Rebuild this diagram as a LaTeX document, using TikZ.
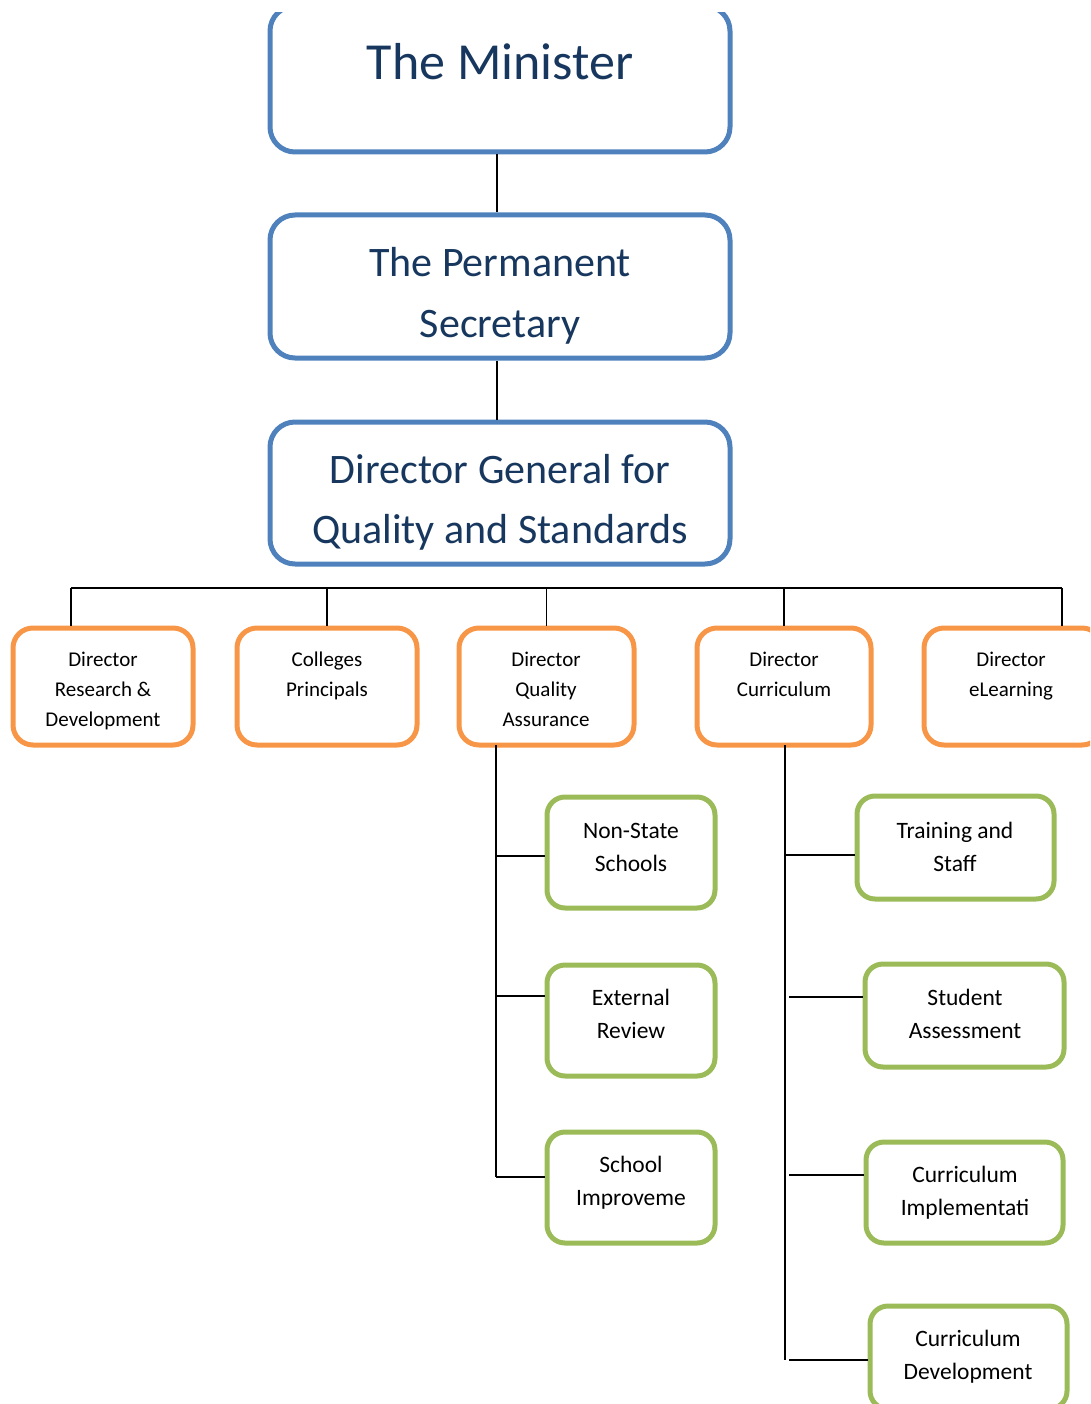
\documentclass[tikz,border=0pt]{standalone}
\usepackage{fontspec}
\setmainfont{Carlito}
\usepackage{tikz}

\definecolor{boxblue}{HTML}{4F81BD}
\definecolor{boxorange}{HTML}{F79646}
\definecolor{boxgreen}{HTML}{9BBB59}
\definecolor{titleblue}{HTML}{17375E}

\begin{document}
\begin{tikzpicture}[x=1pt, y=-1pt,
  bluebox/.style={draw=boxblue, line width=5pt, rounded corners=25pt, minimum width=460pt, inner sep=0pt},
  orangebox/.style={draw=boxorange, line width=5pt, rounded corners=20pt, minimum height=117pt, inner sep=0pt},
  greenbox/.style={draw=boxgreen, line width=5pt, rounded corners=18pt, inner sep=0pt},
  bigtext/.style={align=center, anchor=base, text=titleblue, inner sep=0pt, font=\fontsize{42}{60}\selectfont},
  midtext/.style={align=center, anchor=base, inner sep=0pt, font=\fontsize{21}{30}\selectfont},
  smalltext/.style={align=center, anchor=base, inner sep=0pt, font=\fontsize{23.5}{33}\selectfont},
  link/.style={draw=black, line width=1.6pt}]

\useasboundingbox (0,0) rectangle (1090,1404);
\clip (0,13) rectangle (1090,1404);

% top of the chart (text nodes sit on the baseline of their last line)
\node[bluebox, minimum height=146pt] (mini) at (500,79) {};
\node[bigtext, font=\fontsize{52}{60}\selectfont] (miniT) at (500,80) {The Minister};

\node[bluebox, minimum height=143pt] (perm) at (500,286.5) {};
\node[bigtext] (permT) at (500,337) {The Permanent\\Secretary};

\node[bluebox, minimum height=142pt] (dg) at (500,493) {};
\node[bigtext] (dgT) at (500,543) {Director General for\\Quality and Standards};

\draw[link] ([xshift=-3pt]mini.south) -- ([xshift=-3pt]perm.north);
\draw[link] ([xshift=-3pt]perm.south) -- ([xshift=-3pt]dg.north);

% directors
\node[orangebox, minimum width=180pt] (rd) at (103,686.5) {};
\node[midtext] (rdT) at (103,726) {Director\\Research \&\\Development};

\node[orangebox, minimum width=180pt] (col) at (327,686.5) {};
\node[midtext] (colT) at (327,696) {Colleges\\Principals};

\node[orangebox, minimum width=175pt] (qa) at (546.5,686.5) {};
\node[midtext] (qaT) at (546,726) {Director\\Quality\\Assurance};

\node[orangebox, minimum width=174pt] (cur) at (784,686.5) {};
\node[midtext] (curT) at (784,696) {Director\\Curriculum};

\node[orangebox, minimum width=178pt] (el) at (1013,686.5) {};
\node[midtext] (elT) at (1011,696) {Director\\eLearning};

\coordinate (barL) at (71,588);
\coordinate (barR) at (1062,588);
\draw[link] (barL) -- (barR);
\draw[link] (barL) -- (barL |- rd.north);
\draw[link] (col.north |- barL) -- (col.north);
\draw[link] (qa.north |- barL) -- (qa.north);
\draw[link] (cur.north |- barL) -- (cur.north);
\draw[link] (barR) -- (barR |- el.north);

% quality assurance units
\node[greenbox, minimum width=168pt, minimum height=111pt] (nss) at (631,852.5) {};
\node[smalltext] (nssT) at (631,871) {Non-State\\Schools};

\node[greenbox, minimum width=168pt, minimum height=111pt] (ext) at (631,1020.5) {};
\node[smalltext] (extT) at (631,1038) {External\\Review};

\node[greenbox, minimum width=168pt, minimum height=111pt] (sim) at (631,1187.5) {};
\node[smalltext] (simT) at (631,1205) {School\\Improveme};

\coordinate (qaTop) at (496,745);
\coordinate (qaEnd) at (496,1177);
\coordinate (q1) at (496,856);
\coordinate (q2) at (496,996);
\draw[link] (qaTop) -- (qaEnd);
\draw[link] (q1) -- (q1 -| nss.west);
\draw[link] (q2) -- (q2 -| ext.west);
\draw[link] (qaEnd) -- (qaEnd -| sim.west);

% curriculum units
\node[greenbox, minimum width=197pt, minimum height=103pt] (trn) at (955.5,847.5) {};
\node[smalltext] (trnT) at (955,871) {Training and\\Staff};

\node[greenbox, minimum width=199pt, minimum height=103pt] (sta) at (964.5,1015.5) {};
\node[smalltext] (staT) at (965,1038) {Student\\Assessment};

\node[greenbox, minimum width=197pt, minimum height=101pt] (cim) at (964.5,1192.5) {};
\node[smalltext] (cimT) at (965,1215) {Curriculum\\Implementati};

\node[greenbox, minimum width=197pt, minimum height=103pt] (cdv) at (968.5,1357.5) {};
\node[smalltext] (cdvT) at (968,1379) {Curriculum\\Development};

\coordinate (curTop) at (785,745);
\coordinate (curEnd) at (785,1360);
\coordinate (c1) at (785,855);
\coordinate (c2) at (789,997);
\coordinate (c3) at (789,1175);
\coordinate (c4) at (789,1360);
\draw[link] (curTop) -- (curEnd);
\draw[link] (c1) -- (c1 -| trn.west);
\draw[link] (c2) -- (c2 -| sta.west);
\draw[link] (c3) -- (c3 -| cim.west);
\draw[link] (c4) -- (c4 -| cdv.west);
\end{tikzpicture}
\end{document}
